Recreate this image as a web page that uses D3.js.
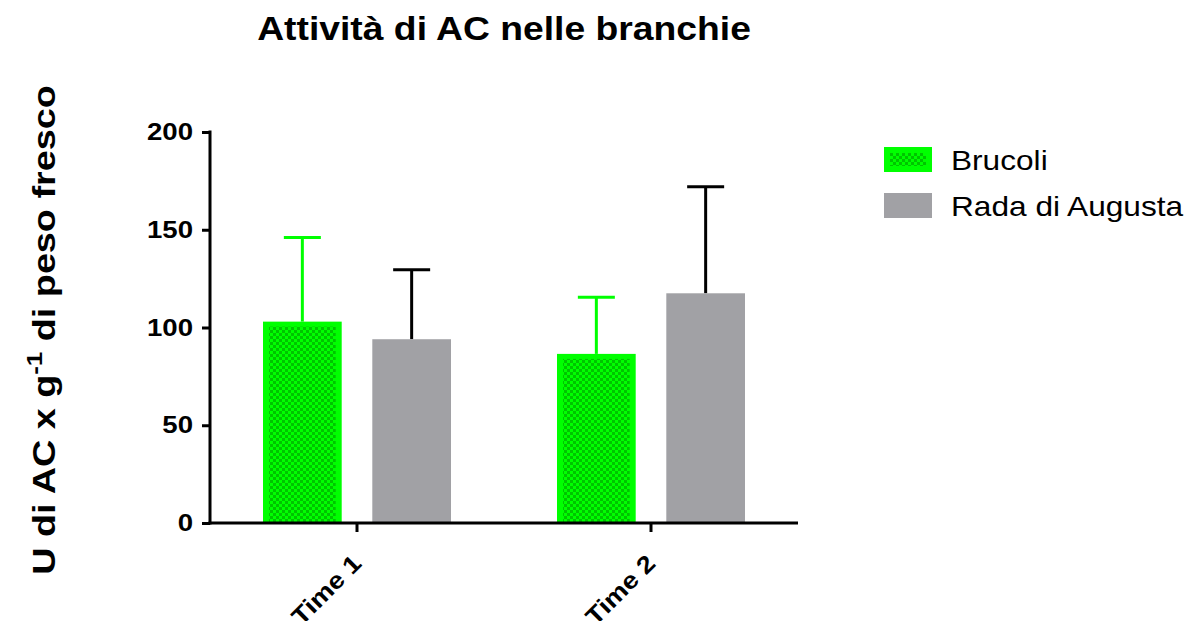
<!DOCTYPE html>
<html>
<head>
<meta charset="utf-8">
<script src="https://cdn.jsdelivr.net/npm/d3@7"></script>
<style>
  html, body { margin: 0; padding: 0; background: #fff; }
  svg { display: block; font-family: "Liberation Sans", Arial, sans-serif; }
</style>
</head>
<body>
<svg id="chart" width="1188" height="621"></svg>
<script>
// Data
const categories = ["Time 1", "Time 2"];
const seriesNames = ["Brucoli", "Rada di Augusta"];
const brucoliMean = [103, 86.5];
const brucoliErr = [43, 29];
const radaMean = [94, 117.5];
const radaErr = [35.5, 54.5];
const yTicks = [0, 50, 100, 150, 200];

const seriesColors = ["#00ff00", "#a1a1a5"];
const errColors = ["#00ff00", "#000000"];

// text is drawn slightly widened along its own direction
const WIDEN = 1.15;

const svg = d3.select("#chart");
const margin = { left: 210, right: 390, top: 132, bottom: 98 };
const W = 1188, H = 621;

// checkered fill for the Brucoli bars
const defs = svg.append("defs");
const pat = defs.append("pattern")
  .attr("id", "checker")
  .attr("patternUnits", "userSpaceOnUse")
  .attr("width", 6).attr("height", 6);
pat.append("rect").attr("width", 6).attr("height", 6).attr("fill", "#00ff00");
pat.append("rect").attr("width", 3).attr("height", 3).attr("fill", "#00c400");
pat.append("rect").attr("x", 3).attr("y", 3).attr("width", 3).attr("height", 3).attr("fill", "#00c400");

const x = d3.scaleBand()
  .domain(categories)
  .range([margin.left, W - margin.right])
  .paddingInner(0).paddingOuter(0);

const y = d3.scaleLinear()
  .domain([0, 200])
  .range([H - margin.bottom, margin.top]);

const xs = d3.scaleBand()
  .domain(seriesNames)
  .range([53, x.bandwidth() - 53])
  .paddingInner(0.28);

const data = categories.map((c, i) => ({
  cat: c,
  vals: [
    { s: seriesNames[0], v: brucoliMean[i], e: brucoliErr[i], k: 0 },
    { s: seriesNames[1], v: radaMean[i], e: radaErr[i], k: 1 }
  ]
}));

const groups = svg.append("g").selectAll("g")
  .data(data).join("g")
  .attr("transform", d => `translate(${x(d.cat)},0)`);

// error bars (upper only), drawn behind bars
groups.selectAll("g.err")
  .data(d => d.vals).join("g")
  .attr("class", "err")
  .each(function(d) {
    const g = d3.select(this);
    const cx = xs(d.s) + xs.bandwidth() / 2;
    g.append("line")
      .attr("x1", cx).attr("x2", cx)
      .attr("y1", y(d.v)).attr("y2", y(d.v + d.e))
      .attr("stroke", errColors[d.k]).attr("stroke-width", 3);
    g.append("line")
      .attr("x1", cx - 18.5).attr("x2", cx + 18.5)
      .attr("y1", y(d.v + d.e)).attr("y2", y(d.v + d.e))
      .attr("stroke", errColors[d.k]).attr("stroke-width", 3);
  });

// bars
groups.selectAll("g.bar")
  .data(d => d.vals).join("g")
  .attr("class", "bar")
  .each(function(d) {
    const g = d3.select(this);
    const bx = xs(d.s), bw = xs.bandwidth();
    const top = y(d.v), bot = y(0);
    g.append("rect")
      .attr("x", bx).attr("y", top)
      .attr("width", bw).attr("height", bot - top)
      .attr("fill", seriesColors[d.k]);
    if (d.k === 0) {
      g.append("rect")
        .attr("x", bx + 6).attr("y", top + 5)
        .attr("width", bw - 12).attr("height", Math.max(0, bot - top - 5))
        .attr("fill", "url(#checker)");
    }
  });

// y axis
const yAxis = svg.append("g")
  .attr("transform", `translate(${margin.left},0)`)
  .call(d3.axisLeft(y).tickValues(yTicks).tickSize(8).tickSizeOuter(0).tickPadding(8));
yAxis.select(".domain").attr("stroke", "#000").attr("stroke-width", 3)
  .attr("d", `M0,${y(0) + 1.5}V${y(200) - 1.5}`);
yAxis.selectAll(".tick line").attr("stroke", "#000").attr("stroke-width", 3);
yAxis.selectAll(".tick text")
  .attr("x", 0)
  .attr("transform", `translate(-17,0) scale(${WIDEN},1)`)
  .attr("font-size", 24).attr("font-weight", "bold").attr("fill", "#000")
  .attr("font-family", "Liberation Sans, Arial, sans-serif");

// x axis
const xAxis = svg.append("g")
  .attr("transform", `translate(0,${y(0)})`)
  .call(d3.axisBottom(x).tickSize(9).tickSizeOuter(0).tickPadding(0));
xAxis.select(".domain").attr("stroke", "#000").attr("stroke-width", 3)
  .attr("d", `M${margin.left - 1.5},0H${W - margin.right}`);
xAxis.selectAll(".tick line").attr("stroke", "#000").attr("stroke-width", 3);
xAxis.selectAll(".tick text")
  .attr("font-size", 24).attr("font-weight", "bold").attr("fill", "#000")
  .attr("font-family", "Liberation Sans, Arial, sans-serif")
  .attr("text-anchor", "end")
  .attr("y", 0)
  .attr("dy", "0.35em")
  .attr("transform", `translate(0,36) rotate(-45) scale(${WIDEN},1)`);

// title
svg.append("text")
  .attr("transform", `translate(504,40) scale(1.13,1)`)
  .attr("text-anchor", "middle")
  .attr("font-size", 33).attr("font-weight", "bold")
  .text("Attività di AC nelle branchie");

// y axis title with superscript
const yt = svg.append("text")
  .attr("transform", `translate(55,330) rotate(-90) scale(1.18,1)`)
  .attr("text-anchor", "middle")
  .attr("font-size", 32).attr("font-weight", "bold");
yt.append("tspan").text("U di AC x g");
yt.append("tspan").attr("dy", -13).attr("font-size", 22).text("-1");
yt.append("tspan").attr("dy", 13).text(" di peso fresco");

// legend
const legend = svg.append("g").attr("transform", "translate(884,147)");
seriesNames.forEach((s, i) => {
  const g = legend.append("g").attr("transform", `translate(0,${i * 46})`);
  g.append("rect").attr("width", 48).attr("height", 25).attr("fill", seriesColors[i]);
  if (i === 0) {
    g.append("rect").attr("x", 6).attr("y", 6).attr("width", 36).attr("height", 13).attr("fill", "url(#checker)");
  }
  g.append("text")
    .attr("transform", `translate(67,23) scale(1.13,1)`)
    .attr("font-size", 28).attr("fill", "#000").text(s);
});
</script>
</body>
</html>
